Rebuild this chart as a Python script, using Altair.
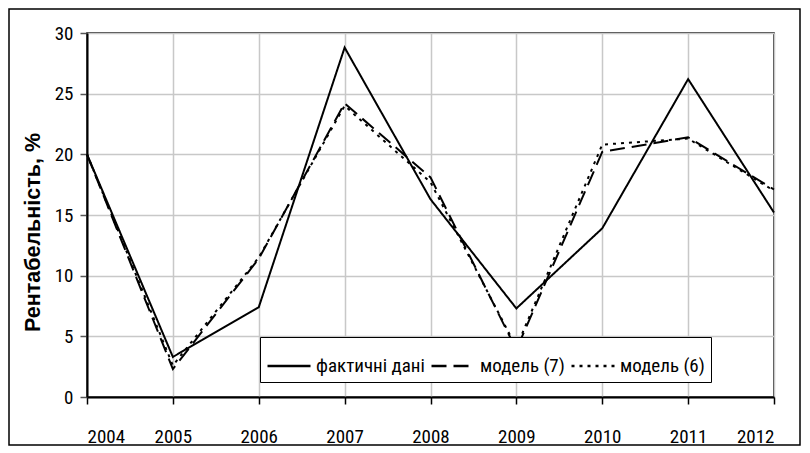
import altair as alt
import pandas as pd

years = [2004, 2005, 2006, 2007, 2008, 2009, 2010, 2011, 2012]
actual = [20.0, 3.3, 7.4, 28.8, 16.3, 7.3, 13.9, 26.2, 15.2]
model7 = [20.0, 2.3, 11.4, 24.2, 18.1, 3.9, 20.2, 21.4, 17.1]
model6 = [20.0, 2.6, 11.5, 24.0, 17.7, 4.1, 20.8, 21.3, 17.0]
series_names = ["фактичні дані", "модель (7)", "модель (6)"]
y_ticks = [0, 5, 10, 15, 20, 25, 30]

rows = []
for name, vals in zip(series_names, [actual, model7, model6]):
    for yr, v in zip(years, vals):
        rows.append({"year": yr, "value": v, "series": name})
df = pd.DataFrame(rows)

FONT = "Roboto Condensed, DejaVu Sans Condensed, sans-serif"
W, H = 687, 364

lines = alt.Chart(df).mark_line(color="black", strokeWidth=2, clip=False).encode(
    x=alt.X("year:Q", scale=alt.Scale(domain=[2004, 2012], nice=False, zero=False),
            axis=alt.Axis(values=years, format="d", title=None, grid=True,
                          domainColor="black", domainWidth=2, tickColor="black",
                          tickSize=7, tickWidth=1.5, labelPadding=23)),
    y=alt.Y("value:Q", scale=alt.Scale(domain=[0, 30], nice=False),
            axis=alt.Axis(values=y_ticks, title="Рентабельність, %",
                          titleFont="Liberation Sans", titleFontWeight="bold",
                          titleFontSize=21.5, titleAngle=-90, titleX=-54, titleY=199,
                          titleAlign="center", titleBaseline="middle",
                          domainColor="black", domainWidth=2, tickColor="#555",
                          tickSize=7, tickWidth=1.5, labelPadding=7)),
    strokeDash=alt.StrokeDash("series:N",
        scale=alt.Scale(domain=series_names, range=[[1, 0], [15, 7], [3, 5]]),
        sort=series_names,
        legend=alt.Legend(title=None, orient="none", legendX=173, legendY=304,
                          direction="horizontal", columns=3,
                          fillColor="white", strokeColor="black",
                          padding=6, symbolType="stroke", symbolSize=1849,
                          symbolStrokeWidth=2.5, symbolStrokeColor="black",
                          labelFont=FONT, labelFontSize=19, labelFontWeight="normal",
                          labelOffset=4, columnPadding=1, labelLimit=300)),
    detail="series:N",
)

frame = alt.Chart(pd.DataFrame({"a": [0]})).mark_rect(
    fill=None, stroke="black", strokeWidth=1.5, clip=False
).encode(
    x=alt.value(-78), x2=alt.value(W + 26), y=alt.value(-24), y2=alt.value(H + 48)
)

chart = alt.layer(lines, frame).properties(
    width=W, height=H,
    autosize=alt.AutoSizeParams(type="none"),
    padding={"left": 79, "top": 25, "right": 28, "bottom": 49},
).configure_axis(
    labelFont=FONT, labelFontSize=19, labelFontWeight="normal", labelColor="black",
    gridColor="#c8c8c8", gridWidth=1.5,
).configure_view(stroke="black", strokeWidth=1.5)

chart.save("out.html", embed_options={"renderer": "svg", "actions": False})
